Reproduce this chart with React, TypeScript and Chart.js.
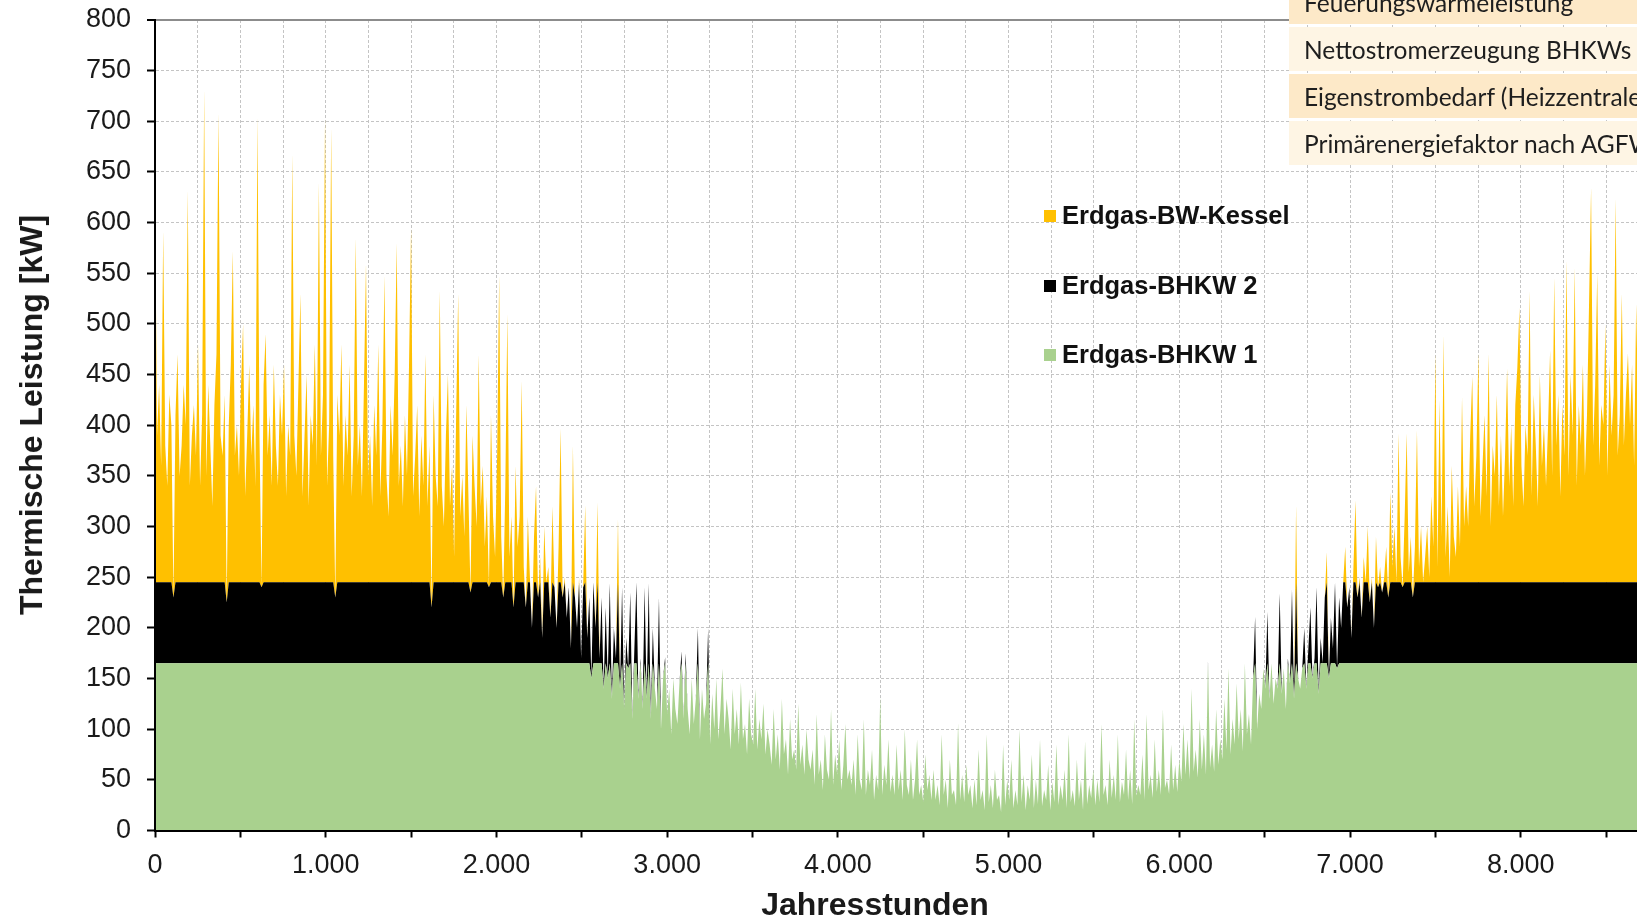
import { useEffect, useRef } from "react";
import { Chart, registerables } from "chart.js";

Chart.register(...registerables);

// Sampling interval of the read-off load curve (hours per sample)
const HOUR_STEP = 12;

// Total thermal load [kW], every 12 hours (0 … 8760 h)
const totalLoad: number[] = [
  640, 390, 440, 360, 592, 380, 340, 430, 400, 230, 410, 470, 350, 380, 440, 400, 632, 340, 390, 420,
  370, 480, 340, 410, 732, 350, 440, 380, 320, 420, 470, 709, 390, 370, 430, 225, 400, 460, 572, 370,
  400, 350, 440, 500, 330, 390, 460, 370, 420, 340, 705, 390, 240, 440, 490, 370, 410, 340, 460, 380,
  340, 430, 390, 460, 330, 400, 370, 668, 390, 350, 440, 530, 330, 390, 450, 320, 410, 380, 480, 360,
  640, 370, 430, 704, 340, 400, 694, 370, 230, 430, 390, 480, 340, 410, 370, 460, 330, 390, 585, 360,
  400, 330, 440, 560, 350, 390, 320, 420, 370, 480, 330, 400, 548, 350, 310, 420, 370, 450, 580, 340,
  380, 320, 410, 350, 460, 595, 330, 370, 420, 310, 390, 340, 470, 320, 380, 220, 430, 350, 320, 533,
  340, 300, 390, 450, 320, 360, 270, 410, 530, 310, 350, 290, 420, 330, 235, 390, 340, 300, 470, 320,
  360, 280, 330, 240, 410, 310, 270, 370, 548, 290, 230, 340, 510, 270, 310, 220, 360, 280, 310, 444,
  260, 220, 310, 250, 200, 290, 340, 230, 270, 190, 300, 245, 260, 210, 320, 240, 200, 280, 397, 230,
  250, 210, 240, 180, 380, 230, 200, 250, 170, 240, 321, 190, 230, 150, 245, 200, 324, 170, 230, 140,
  220, 150, 244, 130, 200, 170, 308, 140, 240, 120, 190, 160, 235, 110, 180, 245, 130, 170, 120, 240,
  130, 244, 110, 200, 140, 120, 230, 100, 150, 171, 115, 140, 95, 150, 120, 105, 145, 177, 110, 175,
  120, 95, 150, 105, 130, 200, 90, 140, 110, 125, 200, 85, 135, 100, 150, 90, 120, 160, 95, 130,
  110, 80, 140, 95, 120, 85, 146, 90, 105, 75, 130, 95, 85, 140, 80, 110, 90, 125, 75, 100,
  85, 65, 120, 70, 95, 60, 130, 75, 90, 55, 110, 70, 80, 60, 125, 65, 85, 55, 100, 70,
  60, 80, 45, 115, 55, 70, 40, 95, 60, 50, 120, 45, 75, 55, 90, 40, 65, 105, 50, 60,
  45, 70, 35, 95, 50, 40, 110, 35, 60, 45, 80, 30, 55, 40, 132, 35, 65, 45, 90, 38,
  55, 35, 85, 40, 60, 30, 100, 45, 35, 70, 30, 50, 90, 35, 45, 28, 75, 40, 55, 30,
  60, 30, 45, 25, 95, 35, 50, 22, 70, 35, 40, 25, 106, 30, 55, 28, 65, 35, 45, 22,
  50, 25, 80, 30, 40, 20, 95, 28, 45, 22, 60, 30, 35, 18, 85, 25, 50, 30, 70, 22,
  40, 25, 100, 28, 55, 20, 45, 30, 75, 22, 50, 26, 90, 24, 40, 30, 65, 20, 48, 28,
  85, 25, 45, 30, 60, 22, 95, 28, 40, 24, 70, 30, 50, 20, 88, 26, 45, 32, 60, 25,
  50, 28, 105, 35, 45, 25, 70, 32, 55, 30, 95, 28, 48, 35, 80, 30, 60, 26, 110, 34,
  45, 35, 75, 30, 115, 40, 55, 32, 90, 38, 60, 35, 120, 42, 50, 36, 85, 40, 65, 38,
  70, 48, 105, 55, 90, 50, 140, 58, 80, 52, 110, 60, 95, 55, 168, 62, 85, 58, 120, 65,
  90, 70, 130, 80, 160, 75, 110, 85, 145, 90, 120, 78, 165, 95, 115, 85, 150, 211, 100, 135,
  120, 160, 140, 216, 130, 165, 125, 150, 140, 234, 135, 160, 120, 170, 145, 238, 130, 321, 150, 140,
  160, 200, 140, 180, 220, 150, 170, 240, 135, 190, 165, 230, 275, 150, 210, 180, 245, 160, 230, 200,
  245, 280, 220, 240, 190, 260, 326, 230, 250, 210, 270, 245, 300, 225, 250, 200, 290, 240, 260, 235,
  250, 280, 230, 334, 260, 300, 245, 392, 270, 240, 310, 392, 255, 290, 230, 280, 395, 260, 300, 245,
  270, 300, 250, 330, 280, 471, 260, 425, 290, 489, 270, 320, 250, 360, 290, 270, 340, 280, 428, 300,
  340, 300, 390, 448, 320, 370, 471, 310, 360, 410, 330, 471, 300, 380, 350, 430, 320, 390, 310, 370,
  456, 340, 400, 320, 420, 457, 516, 360, 320, 400, 370, 533, 330, 430, 380, 320, 450, 360, 400, 340,
  400, 474, 350, 546, 380, 430, 330, 420, 370, 563, 350, 450, 390, 556, 340, 420, 380, 460, 350, 410,
  520, 635, 380, 440, 550, 360, 420, 400, 500, 350, 460, 390, 430, 624, 370, 410, 530, 380, 430, 471,
  400, 460, 360, 520, 410, 380, 480, 370, 430, 390, 410,
];

// Unit capacities (thermal) used to split the load into the stacked series
const BHKW1_CAP = 165;
const BHKW2_CAP = 80;

const hours = totalLoad.map((_, i) => i * HOUR_STEP);
const bhkw1 = totalLoad.map((v) => Math.min(v, BHKW1_CAP));
const bhkw2 = totalLoad.map((v) => Math.min(Math.max(v - BHKW1_CAP, 0), BHKW2_CAP));
const kessel = totalLoad.map((v) => Math.max(v - BHKW1_CAP - BHKW2_CAP, 0));

const seriesLabels = ["Erdgas-BHKW 1", "Erdgas-BHKW 2", "Erdgas-BW-Kessel"];
const seriesColors = ["#A9D18E", "#000000", "#FFC000"];
const legendOrder = [2, 1, 0];

// Axis: grid every 250 h, tick marks every 500 h, labels every 1000 h
const X_MAX = 8760;
const X_GRID_STEP = 250;
const X_TICKMARK_STEP = 500;
const X_LABEL_STEP = 1000;
const xGridValues: number[] = [];
for (let v = 0; v < X_MAX; v += X_GRID_STEP) xGridValues.push(v);

const xTitle = "Jahresstunden";
const yTitle = "Thermische Leistung [kW]";

const tableRows = [
  "Feuerungswärmeleistung",
  "Nettostromerzeugung BHKWs (el.)",
  "Eigenstrombedarf (Heizzentrale)",
  "Primärenergiefaktor nach AGFW",
];

const FONT = "'Liberation Sans', Arial, Helvetica, sans-serif";

function fmtThousands(v: number): string {
  return String(v).replace(/\B(?=(\d{3})+(?!\d))/g, ".");
}

function App() {
  const canvasRef = useRef<HTMLCanvasElement | null>(null);

  useEffect(() => {
    const canvas = canvasRef.current;
    if (!canvas) return;
    const series = [bhkw1, bhkw2, kessel];
    const chart = new Chart(canvas, {
      type: "line",
      data: {
        datasets: series.map((s, k) => ({
          label: seriesLabels[k],
          data: hours.map((h, i) => ({ x: h, y: s[i] })),
          backgroundColor: seriesColors[k],
          borderColor: seriesColors[k],
          borderWidth: 0,
          pointRadius: 0,
          tension: 0,
          fill: k === 0 ? "origin" : "-1",
        })),
      },
      options: {
        responsive: false,
        animation: false,
        devicePixelRatio: 1,
        layout: { padding: { left: 0, top: 20, right: 49.5, bottom: 0 } },
        plugins: {
          legend: { display: false },
          tooltip: { enabled: false },
          title: { display: false },
        },
        elements: { point: { radius: 0 }, line: { tension: 0 } },
        scales: {
          x: {
            type: "linear",
            min: 0,
            max: X_MAX,
            afterBuildTicks: (s: any) => {
              s.ticks = xGridValues.map((v) => ({ value: v }));
            },
            afterFit: (s: any) => {
              s.height = 88.5;
              s.paddingLeft = 0;
              s.paddingRight = 0;
            },
            ticks: {
              autoSkip: false,
              maxRotation: 0,
              minRotation: 0,
              padding: 12,
              color: "#1a1a1a",
              font: { family: FONT, size: 27 },
              callback: (v: any) =>
                Number(v) % X_LABEL_STEP === 0 ? fmtThousands(Number(v)) : "",
            },
            grid: {
              color: "#c4c4c4",
              lineWidth: 1,
              tickLength: 7,
              tickWidth: 2,
              tickColor: (ctx: any) =>
                ctx.tick && ctx.tick.value % X_TICKMARK_STEP === 0 ? "#000000" : "rgba(0,0,0,0)",
            },
            border: { display: true, color: "#000000", width: 2, dash: [3, 2], z: 1 },
          },
          y: {
            stacked: true,
            min: 0,
            max: 800,
            afterFit: (s: any) => {
              s.width = 155;
              s.paddingTop = 0;
              s.paddingBottom = 0;
            },
            ticks: {
              stepSize: 50,
              padding: 16,
              color: "#1a1a1a",
              font: { family: FONT, size: 27 },
            },
            grid: {
              color: (ctx: any) => (ctx.tick && ctx.tick.value === 800 ? "#8c8c8c" : "#c4c4c4"),
              lineWidth: (ctx: any) => (ctx.tick && ctx.tick.value === 800 ? 2 : 1),
              tickLength: 8,
              tickWidth: 2,
              tickColor: "#000000",
            },
            border: {
              display: true,
              color: "#000000",
              width: 2,
              dash: (ctx: any) => (ctx.tick && ctx.tick.value === 800 ? [] : [3, 2]),
              z: 1,
            },
          },
        },
      } as any,
    });
    return () => chart.destroy();
  }, []);

  const legendTops = [210, 280, 349];
  const tableRowTops = [-20, 27, 74, 121];
  const tableBaselines = [13, 60, 107, 154];
  const tableFont = 24.5;

  return (
    <div
      style={{
        position: "fixed",
        left: 0,
        top: 0,
        width: 1637,
        height: 919,
        overflow: "hidden",
        background: "#ffffff",
      }}
    >
      <canvas
        ref={canvasRef}
        width={1700}
        height={919}
        style={{ position: "absolute", left: 0, top: 0 }}
      />
      {/* x axis title */}
      <div
        style={{
          position: "absolute",
          left: 875,
          top: 915 - 0.8465 * 32,
          transform: "translateX(-50%)",
          font: `bold 32px ${FONT}`,
          lineHeight: "32px",
          color: "#1a1a1a",
          whiteSpace: "nowrap",
        }}
      >
        {xTitle}
      </div>
      {/* y axis title */}
      <div
        style={{
          position: "absolute",
          left: 31,
          top: 415,
          transform: "translate(-50%, -50%) rotate(-90deg)",
          font: `bold 32px ${FONT}`,
          lineHeight: "32px",
          color: "#1a1a1a",
          whiteSpace: "nowrap",
        }}
      >
        {yTitle}
      </div>
      {/* legend */}
      {legendOrder.map((k, r) => (
        <div key={k}>
          <div
            style={{
              position: "absolute",
              left: 1044,
              top: legendTops[r],
              width: 12,
              height: 12,
              background: seriesColors[k],
            }}
          />
          <div
            style={{
              position: "absolute",
              left: 1062,
              top: legendTops[r] + 15 - 0.8465 * 25.5,
              font: `bold 25.5px ${FONT}`,
              lineHeight: "25.5px",
              color: "#111",
              whiteSpace: "nowrap",
            }}
          >
            {seriesLabels[k]}
          </div>
        </div>
      ))}
      {/* table (top right) */}
      {tableRows.map((t, r) => (
        <div key={t}>
          <div
            style={{
              position: "absolute",
              left: 1289,
              top: tableRowTops[r],
              width: 400,
              height: 44,
              background: r % 2 === 0 ? "#FDE9C8" : "#FEF5E4",
            }}
          />
          <div
            style={{
              position: "absolute",
              left: 1304,
              top: tableBaselines[r] - 0.887 * tableFont,
              font: `${tableFont}px Lato, 'Open Sans', sans-serif`,
              lineHeight: `${tableFont}px`,
              color: "#1e1e1e",
              whiteSpace: "nowrap",
            }}
          >
            {t}
          </div>
        </div>
      ))}
    </div>
  );
}

export default App;
